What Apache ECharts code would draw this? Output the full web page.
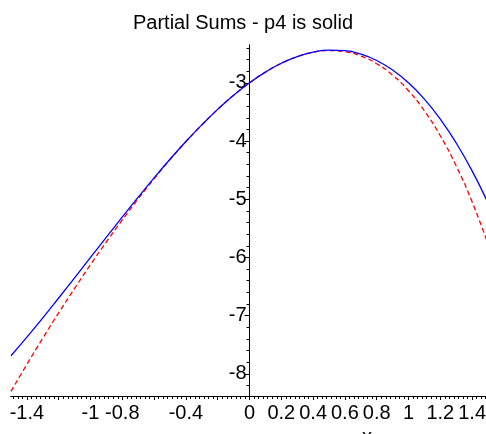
<!DOCTYPE html>
<html>
<head>
<meta charset="utf-8">
<script src="https://cdn.jsdelivr.net/npm/echarts@6/dist/echarts.min.js"></script>
<style>html,body{margin:0;padding:0;background:#fff;}#c{width:486px;height:434px;}</style>
</head>
<body>
<div id="c"></div>
<script>
// x sample positions
var xs = [-1.5,-1.4,-1.3,-1.2,-1.1,-1.0,-0.9,-0.8,-0.7,-0.6,-0.5,-0.4,-0.3,-0.2,-0.1,0,
          0.1,0.2,0.3,0.4,0.5,0.6,0.7,0.8,0.9,1.0,1.1,1.2,1.3,1.4,1.5];
// p4 (solid, blue)
var p4 = [-7.688,-7.368,-7.037,-6.696,-6.350,-6.000,-5.651,-5.304,-4.964,-4.632,-4.313,-4.008,-3.722,-3.456,-3.215,-3.000,
          -2.816,-2.664,-2.549,-2.472,-2.438,-2.448,-2.507,-2.616,-2.780,-3.000,-3.281,-3.624,-4.034,-4.512,-5.063];
// other partial sum (dashed, red)
var pOther = [-8.300,-7.835,-7.386,-6.951,-6.531,-6.124,-5.732,-5.355,-4.994,-4.648,-4.320,-4.011,-3.723,-3.456,-3.215,-3.000,
              -2.816,-2.664,-2.550,-2.475,-2.446,-2.465,-2.539,-2.671,-2.868,-3.136,-3.481,-3.909,-4.428,-5.044,-5.767];
// tick labels
var xLabels = [-1.4,-1,-0.8,-0.4,0,0.2,0.4,0.6,0.8,1,1.2,1.4];
var xMajor = [-1.4,-1.2,-1,-0.8,-0.6,-0.4,-0.2,0,0.2,0.4,0.6,0.8,1,1.2,1.4];
var yLabels = [-8,-7,-6,-5,-4,-3];

var FONT = "'Liberation Sans Narrow', 'Liberation Sans', Arial, sans-serif";
var XMIN = -1.5, XMAX = 1.5, YMIN = -8.38, YMAX = -2.35;
var GL = 11, GW = 477;
var yAxisOffset = -(GW * (0 - XMIN) / (XMAX - XMIN));

var xMinor = [];
var step = 0.2 / 7;
for (var k = Math.ceil(XMIN / step); k <= Math.floor(XMAX / step); k++) {
  xMinor.push(Math.round(k * step * 10000) / 10000);
}
var yMinor = [];
for (var j = -41; j <= -12; j++) {
  if (j % 5 !== 0) yMinor.push(j / 5);
}

function pairs(a) { return xs.map(function (x, i) { return [x, a[i]]; }); }

var chart = echarts.init(document.getElementById('c'), null, { renderer: 'canvas' });
chart.setOption({
  animation: false,
  backgroundColor: '#fff',
  title: {
    text: 'Partial Sums - p4 is solid',
    left: 'center',
    top: 13,
    padding: 0,
    textStyle: { fontFamily: FONT, fontSize: 20, fontWeight: 'normal', color: '#000' }
  },
  grid: { left: GL, top: 45, width: GW, height: 351, containLabel: false, outerBoundsMode: 'none', show: false },
  xAxis: [{
    type: 'value', min: XMIN, max: XMAX,
    name: 'x', nameLocation: 'middle', nameGap: 17,
    nameTextStyle: { fontFamily: FONT, fontSize: 20, color: '#000', padding: [0, 0, 0, 235] },
    axisLine: { onZero: false, lineStyle: { color: '#000', width: 1 } },
    axisTick: { show: true, inside: false, length: 4, customValues: xMajor, lineStyle: { color: '#000' } },
    axisLabel: { customValues: xLabels, fontFamily: FONT, fontSize: 20, color: '#000', margin: 7 },
    splitLine: { show: false }
  }, {
    type: 'value', min: XMIN, max: XMAX, position: 'bottom',
    axisLine: { onZero: false, show: true, lineStyle: { color: '#000', width: 1 } },
    axisTick: { show: true, length: 3, customValues: xMinor, lineStyle: { color: '#000' } },
    axisLabel: { show: false },
    splitLine: { show: false }
  }],
  yAxis: [{
    type: 'value', min: YMIN, max: YMAX, position: 'left', offset: yAxisOffset,
    axisLine: { onZero: false, lineStyle: { color: '#000', width: 1 } },
    axisTick: { show: true, length: 5, customValues: yLabels, lineStyle: { color: '#000' } },
    axisLabel: { customValues: yLabels, fontFamily: FONT, fontSize: 20, color: '#000', margin: 3 },
    splitLine: { show: false }
  }, {
    type: 'value', min: YMIN, max: YMAX, position: 'left', offset: yAxisOffset,
    axisLine: { onZero: false, show: true, lineStyle: { color: '#000', width: 1 } },
    axisTick: { show: true, length: 3, customValues: yMinor, lineStyle: { color: '#000' } },
    axisLabel: { show: false },
    splitLine: { show: false }
  }],
  series: [{
    type: 'line', name: 'p4', data: pairs(p4), smooth: true, symbol: 'none',
    xAxisIndex: 0, yAxisIndex: 0,
    lineStyle: { color: '#0000ff', width: 1.3 }, z: 3
  }, {
    type: 'line', name: 'other', data: pairs(pOther), smooth: true, symbol: 'none',
    xAxisIndex: 0, yAxisIndex: 0,
    lineStyle: { color: '#ff0000', width: 1.3, type: [5, 3] }, z: 2
  }]
});
</script>
</body>
</html>
